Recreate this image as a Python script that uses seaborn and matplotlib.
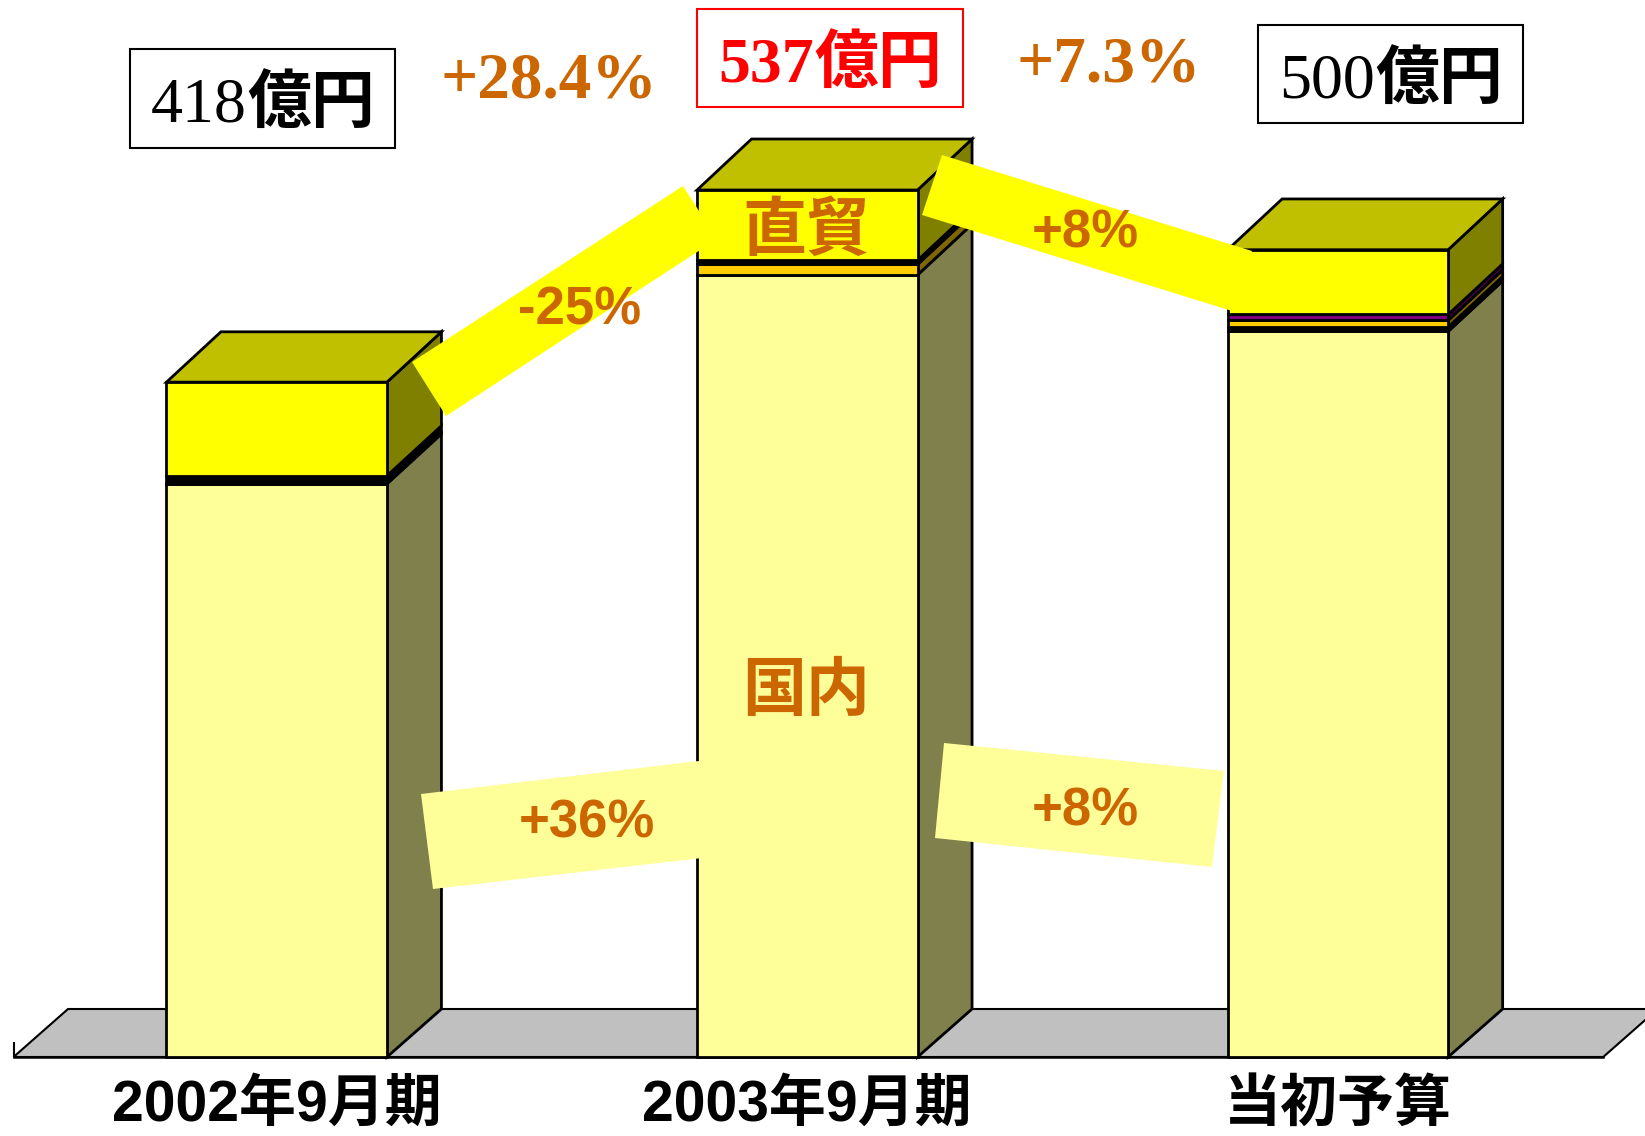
import matplotlib
matplotlib.use("Agg")
import matplotlib.pyplot as plt
from matplotlib.patches import Polygon, Rectangle
import seaborn as sns
import numpy as np

# ---- data (億円) ----
categories = ["2002年9月期", "2003年9月期", "当初予算"]
domestic = [355.0, 484.4, 449.4]
black_low = [5.0, 0.0, 2.8]
gold_seg = [0.0, 6.5, 4.0]
black_high = [0.0, 2.6, 0.0]
purple_seg = [0.0, 0.0, 3.7]
direct_trade = [58.0, 43.5, 40.1]
total_values = ["418", "537", "500"]
total_unit = "億円"
total_growth = ["+28.4%", "+7.3%"]
segment_names = ["直貿", "国内"]
direct_growth = ["-25%", "+8%"]
domestic_growth = ["+36%", "+8%"]

W, H = 1645, 1136
sns.set_theme(style="white")
plt.rcParams["font.family"] = ["Liberation Sans", "Noto Sans CJK JP"]
fig = plt.figure(figsize=(W / 100, H / 100), dpi=100)
ax = fig.add_axes([0, 0, 1, 1])

def px(x, y):
    return (x / W, 1 - y / H)

PX_UNIT = 1.6145
X0, XS = 276.7, 530.6
ymin, ymax = -(H - 1057) / PX_UNIT, 1057 / PX_UNIT
xmin, xmax = -X0 / XS, (W - X0) / XS
BAR_W = 220.5 / XS
DX = 54.5 / XS
def DY(v):
    return (48 + 3 * v / 537) / PX_UNIT

PALE, YEL, GOLD, PURP = "#FFFF99", "#FFFF00", "#FFCC00", "#800080"
ORANGE = "#CC6600"
series = [
    (domestic, PALE, "#80804D"),
    (black_low, "#000000", "#000000"),
    (gold_seg, GOLD, "#806600"),
    (black_high, "#000000", "#000000"),
    (purple_seg, PURP, "#400040"),
    (direct_trade, YEL, "#808000"),
]
LW = 2.0
LEFT = -0.496

# floor
ax.add_patch(Polygon([(LEFT, 0), (2.5, 0), (2.5 + DX, DY(0)), (LEFT + DX, DY(0))],
                     closed=True, fc="#C0C0C0", ec="black", lw=1.5, zorder=1))

bottoms = np.zeros(3)
for vals, col, side in series:
    vals = np.array(vals)
    keep = vals > 0
    sns.barplot(x=np.array(categories)[keep], y=vals[keep], order=categories,
                bottom=bottoms[keep], color=col, saturation=1, width=BAR_W,
                edgecolor="black", linewidth=LW, errorbar=None, zorder=3, ax=ax)
    for i in np.where(keep)[0]:
        xr = i + BAR_W / 2
        b, t = bottoms[i], bottoms[i] + vals[i]
        ax.fill([xr, xr + DX, xr + DX, xr], [b, b + DY(b), t + DY(t), t],
                fc=side, ec="black", lw=LW, zorder=2)
    bottoms = bottoms + vals

for i, t in enumerate(bottoms):
    xl, xr = i - BAR_W / 2, i + BAR_W / 2
    ax.fill([xl, xr, xr + DX, xl + DX], [t, t, t + DY(t), t + DY(t)],
            fc="#C0C000", ec="black", lw=LW, zorder=2.5)

ax.set_xlim(xmin, xmax)
ax.set_ylim(ymin, ymax)
ax.set_xticks(range(3))
ax.set_xticklabels(categories)
ax.set_xticks([LEFT, 0.5, 1.5, 2.5], minor=True)
ax.tick_params(axis="x", which="major", length=0, pad=16, colors="black", labelsize=41)
ax.tick_params(axis="x", which="minor", direction="in", length=11, width=1.5,
               bottom=True, color="black")
ax.set_yticks([])
ax.set_xlabel("")
ax.set_ylabel("")
for s in ["top", "left", "right"]:
    ax.spines[s].set_visible(False)
ax.spines["bottom"].set_position(("data", 0))
ax.spines["bottom"].set_bounds(LEFT, 2.5)
ax.spines["bottom"].set_color("black")
ax.spines["bottom"].set_linewidth(1.8)
ax.patch.set_alpha(0)
# spine repositioning rebuilds the ticks, so style labels afterwards
for lab in ax.get_xticklabels():
    lab.set_fontweight("bold")

# annotation bands (page-level callouts, pixel coordinates)
bands = [
    ([(412, 362), (683, 186), (717, 239), (446, 416)], YEL),
    ([(942, 155), (1252, 251), (1232, 311), (922, 215)], YEL),
    ([(421, 794), (699, 761), (702, 858), (433, 889)], PALE),
    ([(944, 743), (1224, 771), (1212, 867), (935, 838)], PALE),
]
for pts, col in bands:
    fig.add_artist(Polygon([px(*p) for p in pts], closed=True, fc=col, ec="none",
                           transform=fig.transFigure, zorder=5))

# total boxes
boxes = [((130, 49), (395, 148), "black", False),
         ((697, 9), (963, 107), "#FF0000", True),
         ((1258, 25), (1523, 123), "black", False)]
for (p0, p1, col, bold), label in zip(boxes, total_values):
    fig.add_artist(Rectangle(px(p0[0], p1[1]), (p1[0] - p0[0]) / W, (p1[1] - p0[1]) / H,
                             fc="white", ec=col, lw=1.5, transform=fig.transFigure, zorder=6))
    sx, sy = px(p0[0] + 117, p0[1] + 73)
    fig.text(sx, sy, label, color=col, fontsize=46, ha="right", va="baseline",
             family="Liberation Serif", fontweight="bold" if bold else "normal", zorder=7)
    fig.text(sx, sy, total_unit, color=col, fontsize=46, ha="left", va="baseline",
             family="Noto Sans CJK JP", fontweight="bold", zorder=7)

for label, (x, y) in zip(total_growth, [(549, 97), (1109, 82)]):
    fig.text(*px(x, y), label, color=ORANGE, fontsize=47, ha="center", va="baseline",
             family="Liberation Serif", fontweight="bold", zorder=7)

for label, (x, y) in zip(segment_names, [(806, 231), (806, 691)]):
    fig.text(*px(x, y), label, color=ORANGE, fontsize=46, ha="center", va="center",
             family="Noto Sans CJK JP", fontweight="bold", zorder=7)

for label, (x, y) in zip(direct_growth + domestic_growth,
                         [(580, 311), (1085, 233), (587, 824), (1085, 811)]):
    fig.text(*px(x, y), label, color=ORANGE, fontsize=38, ha="center", va="center",
             family="Liberation Sans", fontweight="bold", zorder=7)

fig.savefig("out.png", dpi=100)
